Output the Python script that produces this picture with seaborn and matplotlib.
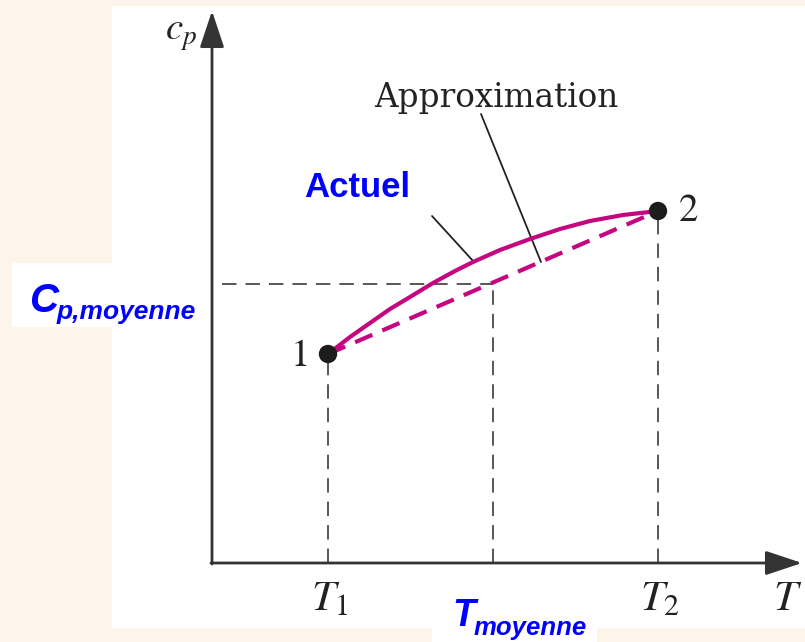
import matplotlib
matplotlib.use("Agg")
import matplotlib.pyplot as plt
import seaborn as sns
import pandas as pd
from matplotlib.patches import Rectangle

# ---- data (arbitrary units) ----
T1, T2 = 11.6, 44.6
cp1, cp2 = 20.9, 35.2
T_moy, cp_moy = 28.1, 27.9
actual_T = [11.6, 13.8, 15.8, 17.8, 19.8, 22.1, 24.3, 26.1, 28.8, 31.8, 34.8, 37.8, 41.1, 44.6]
actual_cp = [20.9, 22.6, 24.0, 25.4, 26.6, 28.0, 29.2, 30.1, 31.3, 32.4, 33.4, 34.2, 34.8, 35.2]
approx_T = [T1, T2]
approx_cp = [cp1, cp2]
end_T = [T1, T2]
end_cp = [cp1, cp2]
end_labels = ["1", "2"]
tick_labels = [r"$T_1$", r"$T_2$"]

sns.set_style("white")
plt.rcParams["mathtext.fontset"] = "stix"

W, H = 805, 642
fig = plt.figure(figsize=(W / 100, H / 100), dpi=100)
cream = "#fdf5ea"
fig.patch.set_facecolor(cream)

def fr(x0, y0, x1, y1):
    return (x0 / W, 1 - y1 / H), (x1 - x0) / W, (y1 - y0) / H

for box in [(112, 6, 805, 628), (432, 600, 597, 642), (12, 263, 112, 327)]:
    xy, w, h = fr(*box)
    fig.patches.append(Rectangle(xy, w, h, transform=fig.transFigure,
                                 facecolor="white", edgecolor="none", zorder=-5))

ax = fig.add_axes([212 / W, 1 - 563 / H, 588 / W, 551 / H])
ax.set_zorder(2)
ax.set_facecolor("none")
ax.set_xlim(0, 58.8)
ax.set_ylim(0, 55.1)
for s in ax.spines.values():
    s.set_visible(False)
ax.set_xticks([])
ax.set_yticks([])

def P(px, py):
    return ((px - 212) / 10, (563 - py) / 10)

mag = "#c4067f"
gray = "#4a4a4a"

# dashed helper lines
dash = (0, (8, 5))
ax.plot([T1, T1], [0, cp1], color=gray, lw=1.3, ls=dash, zorder=1)
ax.plot([T2, T2], [0, cp2], color=gray, lw=1.3, ls=dash, zorder=1)
ax.plot([T_moy, T_moy], [0, cp_moy], color=gray, lw=1.3, ls=dash, zorder=1)
ax.plot([1.0, T_moy], [cp_moy, cp_moy], color=gray, lw=1.3, ls=dash, zorder=1)

# curves
df_act = pd.DataFrame({"T": actual_T, "cp": actual_cp})
sns.lineplot(data=df_act, x="T", y="cp", ax=ax, color=mag, lw=3, sort=False,
             zorder=3, solid_joinstyle="round", solid_capstyle="round")
df_app = pd.DataFrame({"T": approx_T, "cp": approx_cp})
sns.lineplot(data=df_app, x="T", y="cp", ax=ax, color=mag, lw=3, zorder=3,
             linestyle=(0, (4.5, 2.6)))
df_end = pd.DataFrame({"T": end_T, "cp": end_cp})
sns.scatterplot(data=df_end, x="T", y="cp", ax=ax, color="#1c1c1c", s=175,
                edgecolor="none", zorder=5)
ax.set_xlabel("")
ax.set_ylabel("")

# axes arrows
ax.annotate("", xy=(0, 55.2), xytext=(0, -0.1), annotation_clip=False,
            arrowprops=dict(arrowstyle="-|>,head_length=0.9,head_width=0.3",
                            lw=2, color="#333333",
                            mutation_scale=25, shrinkA=0, shrinkB=0))
ax.annotate("", xy=(59.0, 0), xytext=(-0.1, 0), annotation_clip=False,
            arrowprops=dict(arrowstyle="-|>,head_length=0.9,head_width=0.3",
                            lw=2, color="#333333",
                            mutation_scale=25, shrinkA=0, shrinkB=0))

# leader lines
ax.plot(*zip(P(432, 216), P(474, 262)), color="#222222", lw=1.3, zorder=2)
ax.plot(*zip(P(481, 114), P(541, 262)), color="#222222", lw=1.3, zorder=2)

serif = "DejaVu Serif"
ax.text(*P(496, 107), "Approximation", family=serif, fontsize=23.5,
        color="#222222", ha="center", va="baseline", clip_on=False)
for (t, c), lab, (dx, dy) in zip(zip(end_T, end_cp), end_labels, [(-28, 12), (31, 10)]):
    ax.text(t + dx / 10, c - dy / 10, lab, family="STIXGeneral", fontsize=28,
            color="#222222", ha="center", va="baseline", clip_on=False)

# tick labels
for t, lab in zip([T1, T2], tick_labels):
    ax.text(t + 0.2, -4.7, lab, fontsize=31, color="#222222", ha="center",
            va="baseline", clip_on=False)
ax.text(*P(788, 610), r"$T$", fontsize=31, color="#222222", ha="center",
        va="baseline", clip_on=False)
ax.text(*P(181, 40), r"$c_p$", fontsize=28, color="#222222", ha="center",
        va="baseline", clip_on=False)

blue = "#0000ff"
sans = "Liberation Sans"
ax.text(*P(357, 197), "Actuel", family=sans, fontweight="bold", fontsize=25,
        color=blue, ha="center", va="baseline", clip_on=False)
ax.text(*P(29, 312), "C", family=sans, fontweight="bold", fontstyle="italic",
        fontsize=29, color=blue, ha="left", va="baseline", clip_on=False)
ax.text(*P(57, 319), "p,moyenne", family=sans, fontweight="bold", fontstyle="italic",
        fontsize=19, color=blue, ha="left", va="baseline", clip_on=False)
ax.text(*P(452, 626), "T", family=sans, fontweight="bold", fontstyle="italic",
        fontsize=27, color=blue, ha="left", va="baseline", clip_on=False)
ax.text(*P(474, 635), "moyenne", family=sans, fontweight="bold", fontstyle="italic",
        fontsize=18.5, color=blue, ha="left", va="baseline", clip_on=False)

fig.savefig("out.png", dpi=100, facecolor=fig.get_facecolor())
